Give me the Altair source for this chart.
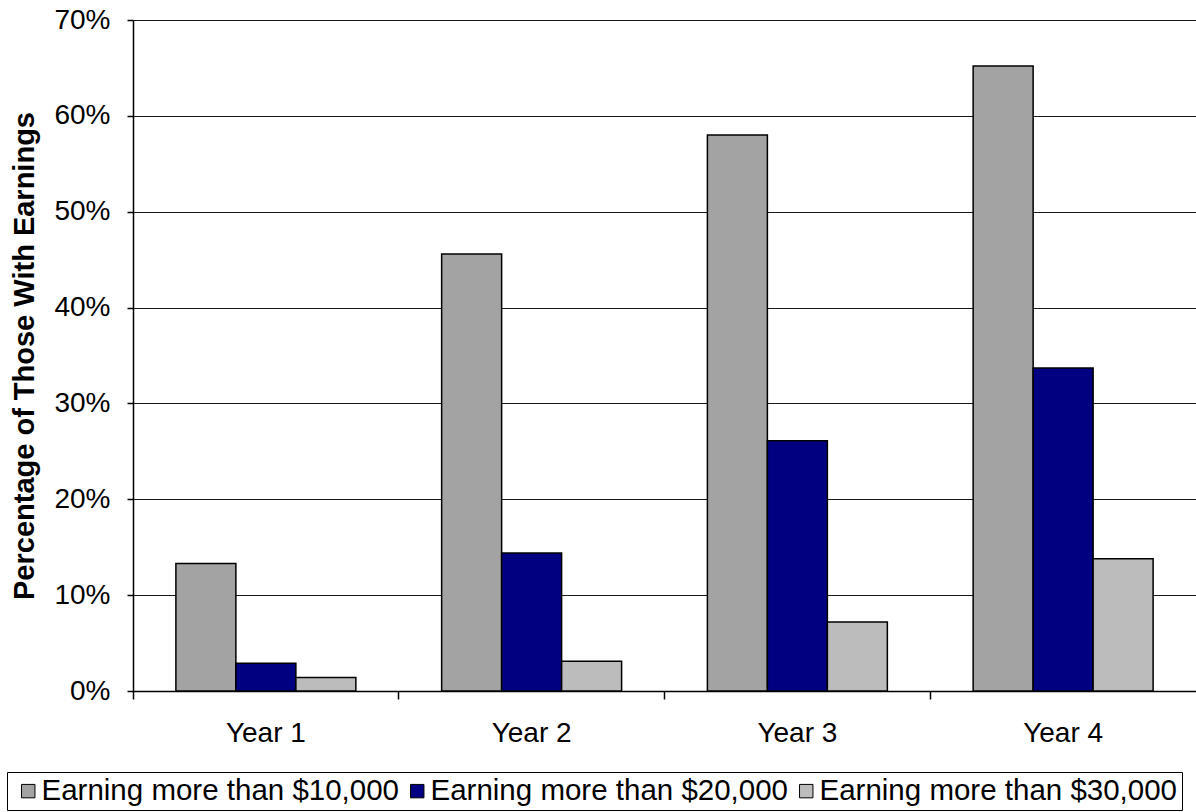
import altair as alt
import pandas as pd

years = ["Year 1", "Year 2", "Year 3", "Year 4"]
series = ["Earning more than $10,000", "Earning more than $20,000", "Earning more than $30,000"]
over10k = [0.133, 0.456, 0.580, 0.652]
over20k = [0.029, 0.144, 0.261, 0.337]
over30k = [0.014, 0.031, 0.072, 0.138]
colors = ["#a3a3a3", "#000080", "#bcbcbc"]

rows = []
for i, y in enumerate(years):
    for s, vals in zip(series, [over10k, over20k, over30k]):
        rows.append({"year": y, "series": s, "value": vals[i]})
df = pd.DataFrame(rows)

FONT = "Liberation Sans"

chart = alt.Chart(df).mark_bar(stroke="black", strokeWidth=1.5).encode(
    x=alt.X("year:N", sort=years,
            scale=alt.Scale(paddingInner=0, paddingOuter=0),
            axis=alt.Axis(title=None, labelAngle=0, bandPosition=0, tickSize=8,
                          labelPadding=20, labelFontSize=28, labelFont=FONT,
                          labelColor="black", domainColor="black", tickColor="black",
                          domainWidth=1.5, tickWidth=1.5, grid=False)),
    xOffset=alt.XOffset("series:N", sort=series,
                        scale=alt.Scale(paddingInner=0, paddingOuter=0.715)),
    y=alt.Y("value:Q",
            scale=alt.Scale(domain=[0, 0.7], nice=False),
            axis=alt.Axis(title="Percentage of Those With Earnings", format=".0%",
                          values=[0, 0.1, 0.2, 0.3, 0.4, 0.5, 0.6, 0.7],
                          tickSize=6, labelPadding=17, labelFontSize=28, labelFont=FONT,
                          labelColor="black", titleFontSize=29, titleFont=FONT,
                          titleFontWeight="bold", titleColor="black", titlePadding=14,
                          domainColor="black", tickColor="black", domainWidth=1.5,
                          tickWidth=1.5, grid=True, gridColor="black", gridWidth=1,
                          gridOpacity=0.9)),
    fill=alt.Fill("series:N", sort=series,
                  scale=alt.Scale(domain=series, range=colors),
                  legend=alt.Legend(title=None, orient="none", legendX=-126, legendY=752,
                                    direction="horizontal", columns=3,
                                    labelFontSize=29.5, labelFont=FONT, labelColor="black",
                                    labelLimit=600, symbolType="square", symbolSize=180,
                                    symbolStrokeColor="black", symbolStrokeWidth=1,
                                    symbolOffset=2.5, labelOffset={"expr": "-1.5"},
                                    columnPadding=0,
                                    padding=4, strokeColor="black", fillColor="white")),
).properties(
    width=1063, height=671,
    autosize=alt.AutoSizeParams(type="none"),
    padding={"left": 133, "top": 20, "right": 0, "bottom": 121},
).configure_view(strokeWidth=0).configure(background="white")

chart.save("out.html", embed_options={"renderer": "svg", "actions": False})
